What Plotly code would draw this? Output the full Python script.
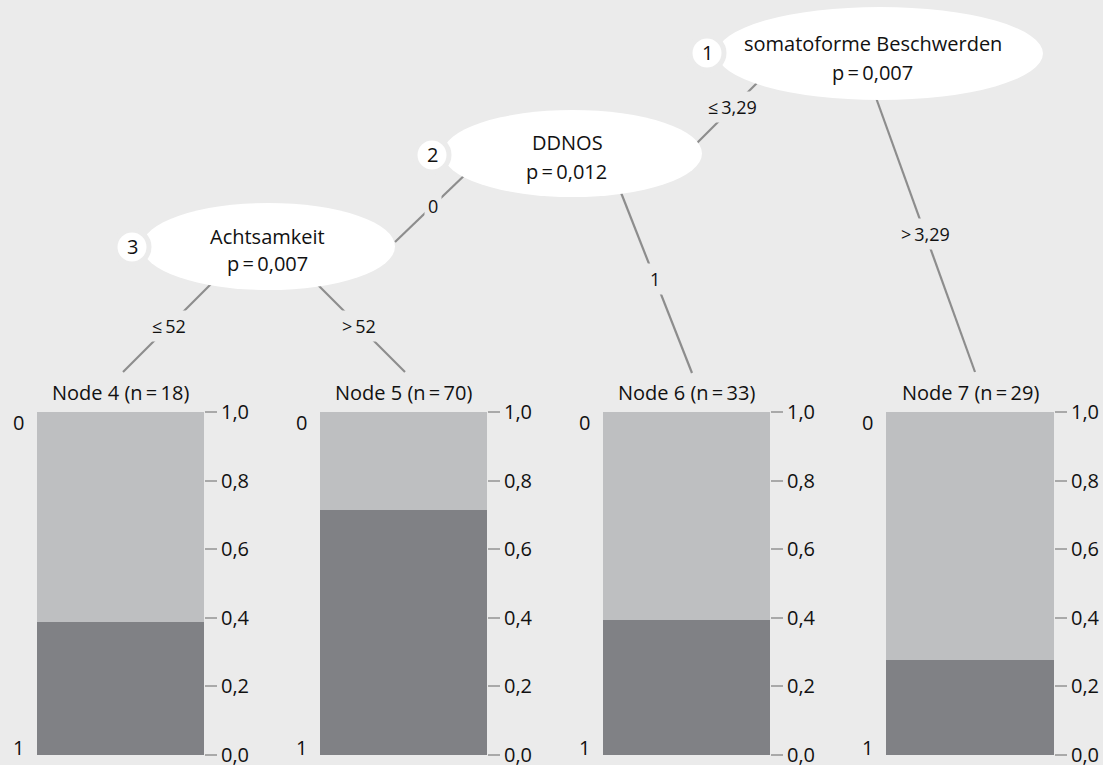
import plotly.graph_objects as go

W, H = 1103, 765
BG = "#ebebeb"
LIGHT = "#bebfc1"
DARK = "#808185"
EDGE = "#8d8d8d"
TICK = "#a9a9a9"
FONT = "Open Sans"
FS = 20

# ---- data ----
terminal_nodes = ["Node 4", "Node 5", "Node 6", "Node 7"]
terminal_n = [18, 70, 33, 29]
prop_class1 = [0.389, 0.714, 0.394, 0.276]   # dark (bottom)
prop_class0 = [0.611, 0.286, 0.606, 0.724]   # light (top)
tick_vals = [0.0, 0.2, 0.4, 0.6, 0.8, 1.0]
tick_text = ["0,0", "0,2", "0,4", "0,6", "0,8", "1,0"]

inner_ids = ["1", "2", "3"]
inner_vars = ["somatoforme Beschwerden", "DDNOS", "Achtsamkeit"]
inner_p = ["0,007", "0,012", "0,007"]
edge_labels = ["≤\u20093,29", "0", "≤\u200952", ">\u200952", "1", ">\u20093,29"]

# ---- layout (pixel geometry) ----
bar_x = [(37, 204), (320, 487), (603, 770), (886, 1054)]
bar_top, bar_bot = 412, 755
ellipses = [(717, 7, 1043, 100), (443, 110, 702, 197), (142, 203, 395, 290)]
var_pos = [(873, 43), (567, 142), (267, 236)]
p_pos = [(872, 72), (566, 171), (267, 263)]
num_pos = [(707, 53), (432, 155), (132, 247)]
edges = [((775, 65), (690, 150)), ((470, 170), (395, 242)), ((215, 280), (123, 372)),
         ((313, 280), (405, 372)), ((618, 185), (692, 373)), ((875, 95), (975, 372))]


def px(x):
    return x / W


def py(y):
    return 1 - y / H


def txt(x, y, s, size=FS, bg=None):
    d = dict(x=px(x), y=py(y), xref="paper", yref="paper", text=s, showarrow=False,
             xanchor="center", yanchor="middle", font=dict(size=size, color="#111", family=FONT))
    if bg:
        d.update(bgcolor=bg, borderpad=3)
    return d


fig = go.Figure()
shapes, annotations = [], []

# edges
for (a, b), lab in zip(edges, edge_labels):
    shapes.append(dict(type="line", xref="paper", yref="paper", x0=px(a[0]), y0=py(a[1]),
                       x1=px(b[0]), y1=py(b[1]), line=dict(color=EDGE, width=2.2), layer="below"))
    mx, my = (a[0] + b[0]) / 2, (a[1] + b[1]) / 2
    annotations.append(txt(mx, my, lab, size=FS - 2, bg=BG))

# inner nodes
for (x0, y0, x1, y1) in ellipses:
    shapes.append(dict(type="circle", xref="paper", yref="paper", x0=px(x0), y0=py(y0), x1=px(x1), y1=py(y1),
                       fillcolor="white", line=dict(width=0), layer="above"))
for (cx, cy) in num_pos:
    r = 17
    shapes.append(dict(type="circle", xref="paper", yref="paper", x0=px(cx - r), y0=py(cy - r),
                       x1=px(cx + r), y1=py(cy + r), fillcolor="white", line=dict(color=BG, width=5),
                       layer="above"))
for i in range(3):
    annotations.append(txt(*var_pos[i], inner_vars[i]))
    annotations.append(txt(*p_pos[i], "p\u2009=\u2009" + inner_p[i]))
    annotations.append(txt(*num_pos[i], inner_ids[i]))

# terminal nodes: stacked bars
layout_axes = {}
for i in range(4):
    k = "" if i == 0 else str(i + 1)
    xa, ya = "x" + k, "y" + k
    fig.add_trace(go.Bar(x=[0], y=[prop_class1[i]], xaxis=xa, yaxis=ya, marker=dict(color=DARK, line=dict(width=0)),
                         width=1, showlegend=False, hoverinfo="skip"))
    fig.add_trace(go.Bar(x=[0], y=[prop_class0[i]], xaxis=xa, yaxis=ya, marker=dict(color=LIGHT, line=dict(width=0)),
                         width=1, showlegend=False, hoverinfo="skip"))
    l, r = bar_x[i]
    layout_axes["xaxis" + k] = dict(domain=[px(l), px(r)], range=[-0.5, 0.5], visible=False, fixedrange=True,
                                    anchor=ya, automargin=False)
    layout_axes["yaxis" + k] = dict(domain=[py(bar_bot), py(bar_top)], range=[0, 1], anchor=xa, side="right",
                                    tickvals=tick_vals, ticktext=tick_text, ticks="outside", ticklen=12,
                                    tickwidth=2, tickcolor=TICK, showgrid=False, zeroline=False, showline=False,
                                    tickfont=dict(size=FS, color="#111", family=FONT), fixedrange=True,
                                    automargin=False, ticklabeloverflow="allow")
    cx = (l + r) / 2
    annotations.append(txt(cx, 393, f"{terminal_nodes[i]} (n\u2009=\u2009{terminal_n[i]})"))
    annotations.append(txt(l - 19, 422, "0"))
    annotations.append(txt(l - 19, 747, "1"))

fig.update_layout(width=W, height=H, margin=dict(l=0, r=0, t=0, b=0, autoexpand=False),
                  paper_bgcolor=BG, plot_bgcolor=BG,
                  barmode="stack", bargap=0, shapes=shapes, annotations=annotations,
                  font=dict(family=FONT, size=FS, color="#111"), **layout_axes)

fig.write_html("out.html", config={"displayModeBar": False},
               post_script="document.body.style.margin='0';document.body.style.overflow='hidden';")
